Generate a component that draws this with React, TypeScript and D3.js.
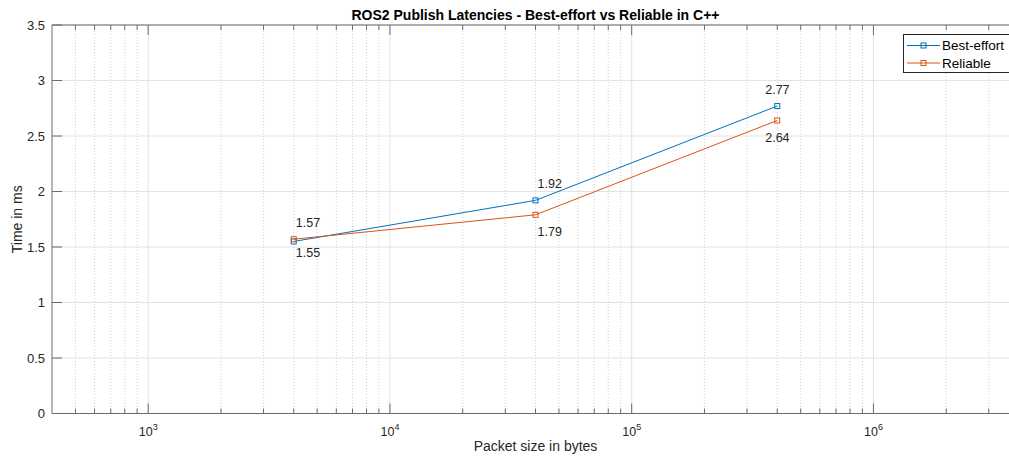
import React from "react";
import * as d3 from "d3";

const packetSizes = [4000, 40000, 400000];
const bestEffort = [1.55, 1.92, 2.77];
const reliable = [1.57, 1.79, 2.64];
const seriesNames = ["Best-effort", "Reliable"];
const yTicks = [0, 0.5, 1, 1.5, 2, 2.5, 3, 3.5];
const xMajorExps = [3, 4, 5, 6];
const titleText = "ROS2 Publish Latencies - Best-effort vs Reliable in C++";
const xLabelText = "Packet size in bytes";
const yLabelText = "Time in ms";

const W = 1009;
const H = 458;
const M = { left: 52, top: 25, right: 1019, bottom: 413.5 };
const FONT = "'Liberation Sans', Arial, Helvetica, sans-serif";
const COLORS = ["#0072BD", "#D95319"];

export default function App() {
  const x = d3.scaleLog().domain([400, 4e6]).range([M.left, M.right]);
  const y = d3.scaleLinear().domain([0, 3.5]).range([M.bottom, M.top]);

  const minor: number[] = [];
  for (let e = 2; e <= 6; e++) {
    for (let m = 2; m <= 9; m++) {
      const v = m * Math.pow(10, e);
      if (v > 400 && v < 4e6) minor.push(v);
    }
  }

  const line = d3
    .line<[number, number]>()
    .x((d) => x(d[0]))
    .y((d) => y(d[1]));

  const series = [bestEffort, reliable];
  const pts = series.map((s) => packetSizes.map((p, i) => [p, s[i]] as [number, number]));

  const axisColor = "#6b6b6b";
  const textColor = "#262626";

  // label placement in data units (above / below)
  const labelOffsets = [
    [-0.1, 0.15, 0.15],
    [0.15, -0.15, -0.15],
  ];

  const ms = 5;

  return (
    <svg
      width={W}
      height={H}
      style={{ position: "absolute", left: 0, top: 0, background: "#fff" }}
      fontFamily={FONT}
    >
      <rect x={0} y={0} width={W} height={H} fill="#fff" />
      <rect x={M.left} y={M.top} width={M.right - M.left} height={M.bottom - M.top} fill="#fff" />
      {/* minor grid */}
      {minor.map((v) => (
        <line
          key={"mg" + v}
          x1={x(v)}
          x2={x(v)}
          y1={M.top}
          y2={M.bottom}
          stroke="#cfcfcf"
          strokeWidth={1}
          strokeDasharray="1,2"
        />
      ))}
      {/* major grid */}
      {xMajorExps.map((e) => (
        <line
          key={"xg" + e}
          x1={x(Math.pow(10, e))}
          x2={x(Math.pow(10, e))}
          y1={M.top}
          y2={M.bottom}
          stroke="#e3e3e3"
          strokeWidth={1}
        />
      ))}
      {yTicks.map((t) => (
        <line key={"yg" + t} x1={M.left} x2={M.right} y1={y(t)} y2={y(t)} stroke="#e3e3e3" strokeWidth={1} />
      ))}
      {/* x ticks bottom and top */}
      {minor.map((v) => (
        <g key={"mt" + v}>
          <line x1={x(v)} x2={x(v)} y1={M.bottom} y2={M.bottom - 5} stroke={axisColor} />
          <line x1={x(v)} x2={x(v)} y1={M.top} y2={M.top + 5} stroke={axisColor} />
        </g>
      ))}
      {xMajorExps.map((e) => (
        <g key={"xt" + e}>
          <line x1={x(Math.pow(10, e))} x2={x(Math.pow(10, e))} y1={M.bottom} y2={M.bottom - 10} stroke={axisColor} />
          <line x1={x(Math.pow(10, e))} x2={x(Math.pow(10, e))} y1={M.top} y2={M.top + 10} stroke={axisColor} />
          <text x={x(Math.pow(10, e))} y={436} textAnchor="middle" fill={textColor} fontSize={12.5}>
            10
            <tspan fontSize={9} dy={-6}>
              {e}
            </tspan>
          </text>
        </g>
      ))}
      {/* y ticks */}
      {yTicks.map((t) => (
        <g key={"yt" + t}>
          <line x1={M.left} x2={M.left + 10} y1={y(t)} y2={y(t)} stroke={axisColor} />
          <text x={M.left - 7} y={y(t) + 4.5} textAnchor="end" fill={textColor} fontSize={13}>
            {t}
          </text>
        </g>
      ))}
      {/* axes box */}
      <line x1={M.left} x2={M.right} y1={M.bottom} y2={M.bottom} stroke={axisColor} />
      <line x1={M.left} x2={M.right} y1={M.top} y2={M.top} stroke={axisColor} />
      <line x1={M.left} x2={M.left} y1={M.top} y2={M.bottom} stroke={axisColor} />
      <line x1={M.right} x2={M.right} y1={M.top} y2={M.bottom} stroke={axisColor} />

      {/* series */}
      {pts.map((p, si) => (
        <g key={"s" + si}>
          <path d={line(p) || ""} fill="none" stroke={COLORS[si]} strokeWidth={1} />
          {p.map((d, i) => (
            <rect
              key={i}
              x={x(d[0]) - ms / 2}
              y={y(d[1]) - ms / 2}
              width={ms}
              height={ms}
              fill="none"
              stroke={COLORS[si]}
              strokeWidth={1}
            />
          ))}
        </g>
      ))}
      {/* value labels */}
      {pts.map((p, si) =>
        p.map((d, i) => {
          const xv = i === p.length - 1 ? d[0] * 0.875 : d[0];
          return (
            <text
              key={"l" + si + i}
              x={x(xv) + 2}
              y={y(d[1] + labelOffsets[si][i]) + 4.5}
              fill={textColor}
              fontSize={12.5}
            >
              {d[1].toFixed(2)}
            </text>
          );
        })
      )}

      {/* title & labels */}
      <text x={(M.left + M.right) / 2} y={20} textAnchor="middle" fontWeight="bold" fontSize={14} fill="#000">
        {titleText}
      </text>
      <text x={(M.left + M.right) / 2} y={451} textAnchor="middle" fontSize={14} fill={textColor}>
        {xLabelText}
      </text>
      <text
        transform={`translate(22,${(M.top + M.bottom) / 2}) rotate(-90)`}
        textAnchor="middle"
        fontSize={14}
        fill={textColor}
      >
        {yLabelText}
      </text>

      {/* legend */}
      <g>
        <rect x={903.5} y={34.5} width={112.5} height={38} fill="#fff" stroke="#262626" strokeWidth={1} />
        {seriesNames.map((n, i) => {
          const ly = 45.5 + i * 17.5;
          return (
            <g key={"lg" + i}>
              <line x1={907} x2={940} y1={ly} y2={ly} stroke={COLORS[i]} strokeWidth={1} />
              <rect x={923.5 - ms / 2} y={ly - ms / 2} width={ms} height={ms} fill="none" stroke={COLORS[i]} />
              <text x={942} y={ly + 4.8} fontSize={13.5} fill="#000">
                {n}
              </text>
            </g>
          );
        })}
      </g>
    </svg>
  );
}
